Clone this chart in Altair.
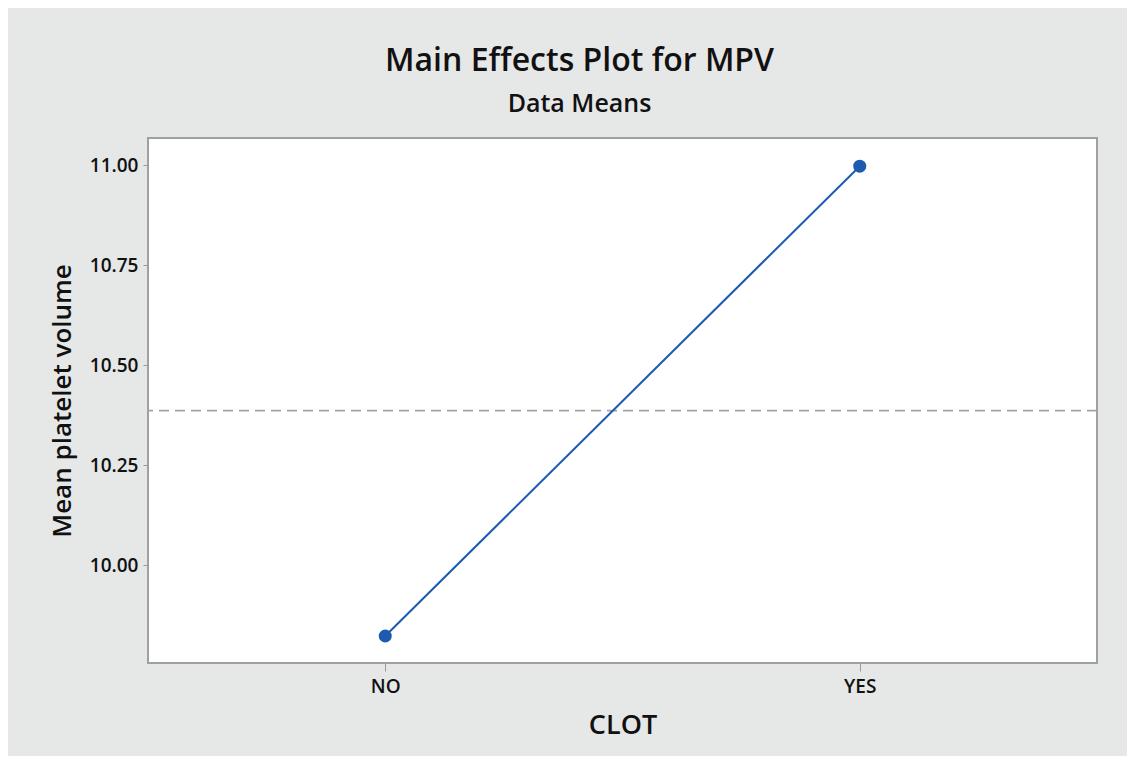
import altair as alt
import pandas as pd

# data
levels = ["NO", "YES"]
means = [9.8225, 10.997]
overall_mean = [10.386]
y_ticks = [10.00, 10.25, 10.50, 10.75, 11.00]

df = pd.DataFrame({"CLOT": levels, "MPV": means})
ref = pd.DataFrame({"m": overall_mean})

FONT = "Open Sans"
BLUE = "#1c5bb0"

y_scale = alt.Scale(domain=[9.755, 11.0675], nice=False, zero=False)
x_scale = alt.Scale(type="point", padding=0.5)

x_enc = alt.X("CLOT:N", scale=x_scale, sort=levels,
              axis=alt.Axis(title="CLOT", labelAngle=0, domain=False,
                            ticks=True, tickSize=8, tickColor="#999999",
                            labelFontSize=19, labelFont=FONT, labelFontWeight=600,
                            labelColor="#111111", labelPadding=6,
                            titleFontSize=27, titleFont=FONT, titleFontWeight=600,
                            titleColor="#111111", titlePadding=16, grid=False))
y_enc = alt.Y("MPV:Q", scale=y_scale,
              axis=alt.Axis(title="Mean platelet volume", values=y_ticks, format=".2f",
                            domain=False, ticks=True, tickSize=5, tickColor="#999999",
                            labelFontSize=19, labelFont=FONT, labelFontWeight=600,
                            labelColor="#111111", labelPadding=5,
                            titleFontSize=26, titleFont=FONT, titleFontWeight=600,
                            titleColor="#111111", titlePadding=14, grid=False))

ref_line = alt.Chart(ref).mark_rule(color="#a3a3a3", strokeWidth=1.6,
                                    strokeDash=[10, 6]).encode(
    y=alt.Y("m:Q", scale=y_scale))

line = alt.Chart(df).mark_line(color=BLUE, strokeWidth=2).encode(x=x_enc, y=y_enc)
pts = alt.Chart(df).mark_circle(color=BLUE, size=170, opacity=1).encode(x=x_enc, y=y_enc)

chart = alt.layer(ref_line, line, pts).properties(
    width=949, height=525,
    autosize=alt.AutoSizeParams(type="none"),
    padding={"left": 140, "top": 130, "right": 30, "bottom": 93},
    background="#e6e7e7",
    title=alt.TitleParams(
        text="Main Effects Plot for MPV",
        subtitle="Data Means",
        font=FONT, fontSize=32, fontWeight=600, color="#111111",
        subtitleFont=FONT, subtitleFontSize=25, subtitleFontWeight=600,
        subtitleColor="#111111", subtitlePadding=14,
        anchor="middle", dx=-43, offset=20,
    ),
).configure_view(
    fill="white", stroke="#a0a0a0", strokeWidth=2
)

chart.save("out.html", embed_options={"renderer": "svg", "actions": False})
